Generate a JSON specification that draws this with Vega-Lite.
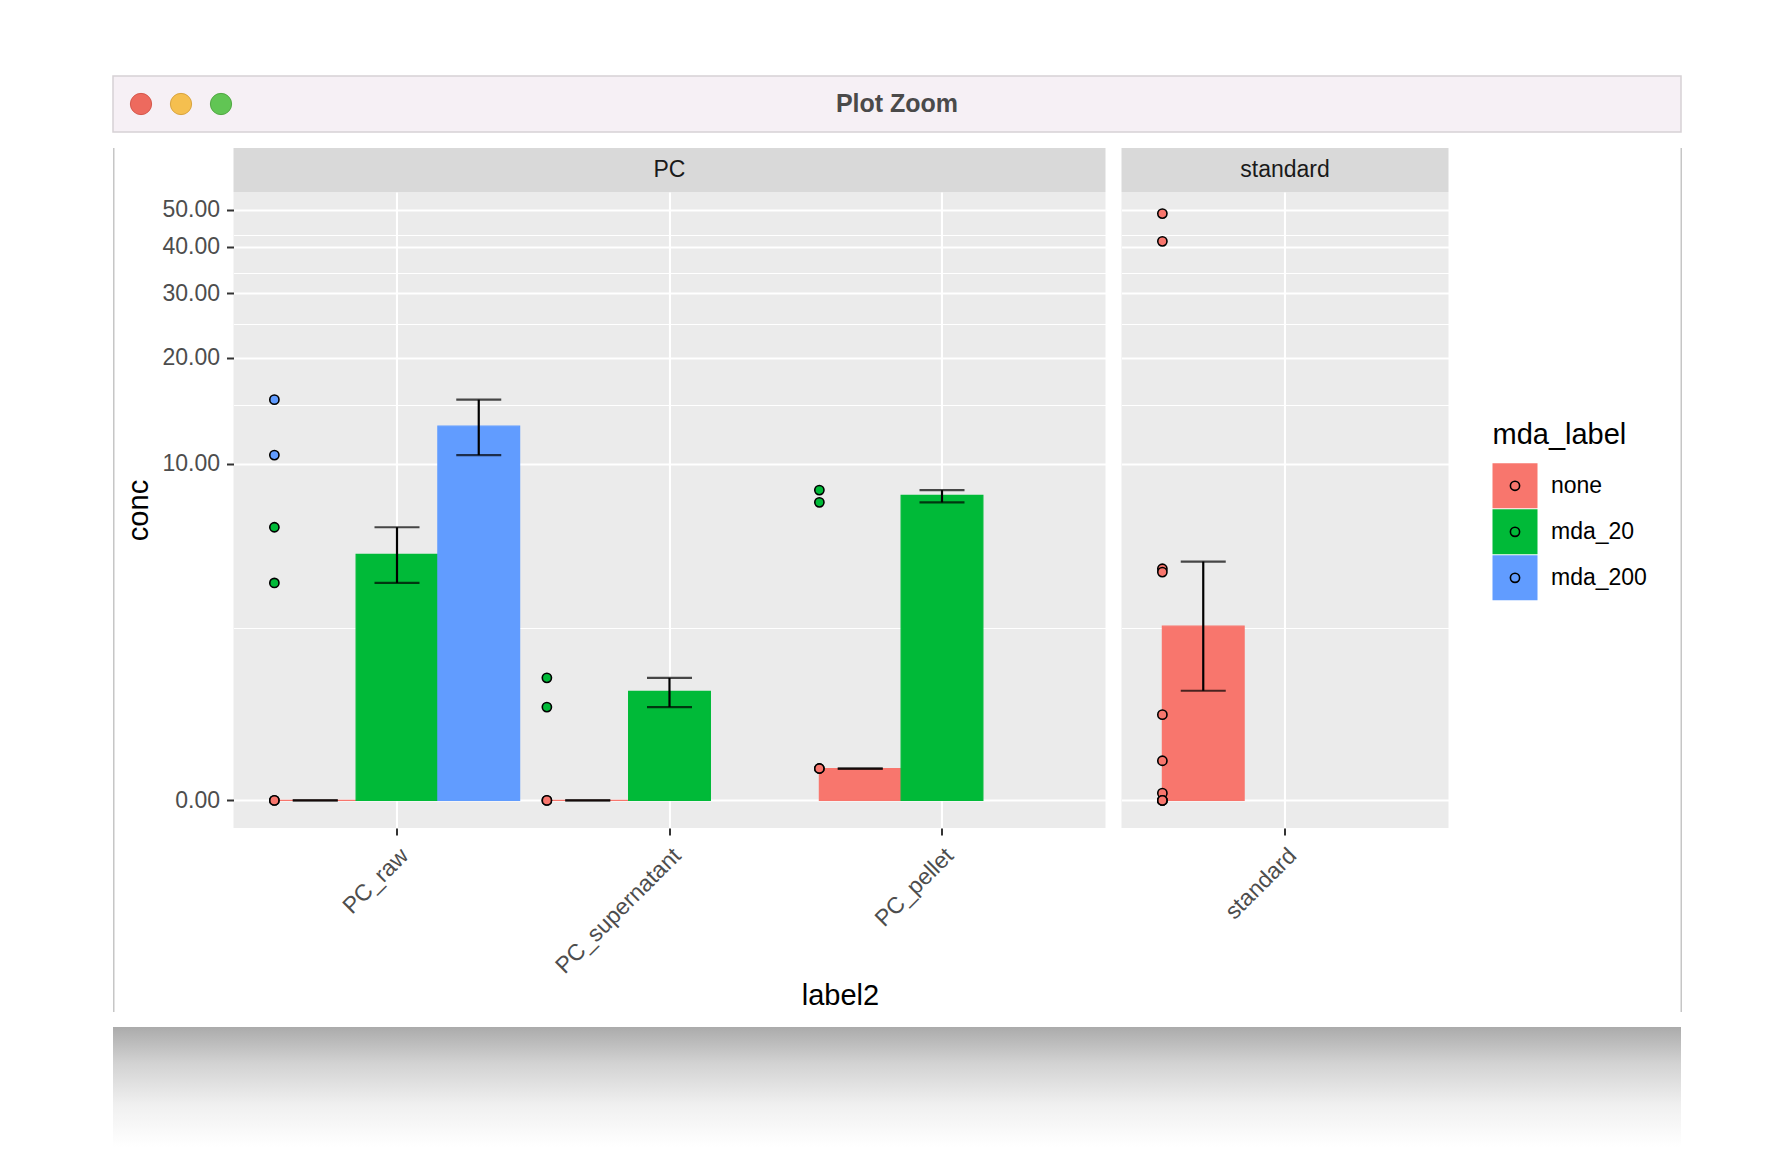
{
  "$schema": "https://vega.github.io/schema/vega-lite/v6.json",
  "background": "white",
  "padding": {"left": 112, "top": 75, "right": 0, "bottom": 0},
  "config": {
    "font": "Liberation Sans",
    "view": {"stroke": null},
    "axis": {
      "domain": false,
      "tickColor": "#333333",
      "tickWidth": 2,
      "tickSize": 7,
      "labelColor": "#4D4D4D",
      "labelFontSize": 23,
      "titleFontSize": 29,
      "titleFontWeight": "normal",
      "titleColor": "#000000",
      "gridColor": "#FFFFFF",
      "minExtent": 0
    }
  },
  "datasets": {
    "bars": [
      {"group": "PC", "label2": "PC_raw", "mda_label": "none", "conc": 0, "lower": 0, "upper": 0},
      {"group": "PC", "label2": "PC_raw", "mda_label": "mda_20", "conc": 5.2, "lower": 4.15, "upper": 6.38},
      {"group": "PC", "label2": "PC_raw", "mda_label": "mda_200", "conc": 12.86, "lower": 10.6, "upper": 15.3},
      {"group": "PC", "label2": "PC_supernatant", "mda_label": "none", "conc": 0, "lower": 0, "upper": 0},
      {"group": "PC", "label2": "PC_supernatant", "mda_label": "mda_20", "conc": 1.44, "lower": 1.17, "upper": 1.69},
      {"group": "PC", "label2": "PC_pellet", "mda_label": "none", "conc": 0.33, "lower": 0.33, "upper": 0.33},
      {"group": "PC", "label2": "PC_pellet", "mda_label": "mda_20", "conc": 8.03, "lower": 7.64, "upper": 8.33},
      {"group": "standard", "label2": "standard", "mda_label": "none", "conc": 2.86, "lower": 1.45, "upper": 4.92}
    ],
    "obs": [
      {"group": "PC", "label2": "PC_raw", "mda_label": "none", "conc": 0},
      {"group": "PC", "label2": "PC_raw", "mda_label": "none", "conc": 0},
      {"group": "PC", "label2": "PC_raw", "mda_label": "mda_20", "conc": 6.38},
      {"group": "PC", "label2": "PC_raw", "mda_label": "mda_20", "conc": 4.15},
      {"group": "PC", "label2": "PC_raw", "mda_label": "mda_200", "conc": 15.3},
      {"group": "PC", "label2": "PC_raw", "mda_label": "mda_200", "conc": 10.6},
      {"group": "PC", "label2": "PC_supernatant", "mda_label": "none", "conc": 0},
      {"group": "PC", "label2": "PC_supernatant", "mda_label": "none", "conc": 0},
      {"group": "PC", "label2": "PC_supernatant", "mda_label": "mda_20", "conc": 1.69},
      {"group": "PC", "label2": "PC_supernatant", "mda_label": "mda_20", "conc": 1.17},
      {"group": "PC", "label2": "PC_pellet", "mda_label": "none", "conc": 0.33},
      {"group": "PC", "label2": "PC_pellet", "mda_label": "none", "conc": 0.33},
      {"group": "PC", "label2": "PC_pellet", "mda_label": "mda_20", "conc": 8.33},
      {"group": "PC", "label2": "PC_pellet", "mda_label": "mda_20", "conc": 7.64},
      {"group": "standard", "label2": "standard", "mda_label": "none", "conc": 48.9},
      {"group": "standard", "label2": "standard", "mda_label": "none", "conc": 41.3},
      {"group": "standard", "label2": "standard", "mda_label": "none", "conc": 4.65},
      {"group": "standard", "label2": "standard", "mda_label": "none", "conc": 4.53},
      {"group": "standard", "label2": "standard", "mda_label": "none", "conc": 1.05},
      {"group": "standard", "label2": "standard", "mda_label": "none", "conc": 0.42},
      {"group": "standard", "label2": "standard", "mda_label": "none", "conc": 0.07},
      {"group": "standard", "label2": "standard", "mda_label": "none", "conc": 0},
      {"group": "standard", "label2": "standard", "mda_label": "none", "conc": 0},
      {"group": "standard", "label2": "standard", "mda_label": "none", "conc": 0}
    ],
    "strips": [{"group": "PC"}, {"group": "standard"}],
    "buttons": [{"button": "close"}, {"button": "minimize"}, {"button": "zoom"}],
    "window": [{"name": "Plot Zoom"}],
    "frame": [{"edge": "window"}]
  },
  "resolve": {"scale": {"x": "independent", "y": "independent", "fill": "independent", "stroke": "independent"}},
  "spacing": 15,
  "vconcat": [
    {
      "width": 1568,
      "height": 56,
      "view": {"fill": "#F6F0F5", "stroke": "#D6D1D5", "strokeWidth": 1.5},
      "layer": [
        {
          "data": {"name": "buttons"},
          "mark": {"type": "circle", "size": 452, "opacity": 1, "strokeWidth": 1},
          "encoding": {
            "x": {"field": "button", "type": "nominal", "scale": {"type": "point", "domain": ["close", "minimize", "zoom"], "range": [28, 108], "padding": 0}, "axis": null},
            "fill": {"field": "button", "type": "nominal", "scale": {"domain": ["close", "minimize", "zoom"], "range": ["#ED6A5E", "#F5BF4F", "#61C554"]}, "legend": null},
            "stroke": {"field": "button", "type": "nominal", "scale": {"domain": ["close", "minimize", "zoom"], "range": ["#D5584C", "#D9A43F", "#52A843"]}, "legend": null}
          }
        },
        {
          "data": {"name": "window"},
          "mark": {"type": "text", "fontSize": 25, "fontWeight": "bold", "color": "#4A4A4A", "baseline": "middle"},
          "encoding": {"text": {"field": "name"}}
        }
      ]
    },
    {
      "spacing": 8.5,
      "resolve": {"scale": {"x": "independent", "y": "independent"}},
      "hconcat": [
        {
          "width": 1.5,
          "height": 864,
          "data": {"name": "frame"},
          "mark": {"type": "rect", "color": "#C6C6C6"}
        },
        {
          "spacing": 33,
          "resolve": {"scale": {"x": "independent", "y": "independent"}},
          "hconcat": [
            {
              "spacing": 44,
              "resolve": {"scale": {"x": "independent", "y": "independent"}},
              "hconcat": [
                {
                  "title": {"text": "label2", "orient": "bottom", "anchor": "middle", "fontSize": 29, "fontWeight": "normal", "color": "#000000", "offset": 4, "dx": 54},
                  "spacing": 16,
                  "resolve": {"scale": {"x": "independent", "y": "independent"}},
                  "hconcat": [
                    {
                      "spacing": 0,
                      "resolve": {"scale": {"x": "independent", "y": "independent"}},
                      "vconcat": [
                        {
                          "width": 872,
                          "height": 44,
                          "view": {"fill": "#D9D9D9", "stroke": null},
                          "data": {"name": "strips"},
                          "transform": [{"filter": "datum.group === 'PC'"}],
                          "mark": {"type": "text", "fontSize": 23, "color": "#1A1A1A", "baseline": "middle"},
                          "encoding": {"text": {"field": "group"}}
                        },
                        {
                          "width": 872,
                          "height": 636,
                          "view": {"fill": "#EBEBEB", "stroke": null},
                          "layer": [
                            {
                              "data": {"name": "bars"},
                              "transform": [{"filter": "datum.group === 'PC'"}],
                              "mark": {"type": "bar", "strokeWidth": 1.2},
                              "encoding": {
                                "x": {"field": "label2", "type": "nominal", "scale": {"domain": ["PC_raw", "PC_supernatant", "PC_pellet"], "paddingInner": 0.1, "paddingOuter": 0.15},
                                      "axis": {"title": null, "labelAngle": -45, "labelAlign": "right", "labelBaseline": "top", "labelPadding": 9, "grid": true, "gridWidth": 2.1, "bandPosition": 0.5}},
                                "xOffset": {"field": "mda_label", "type": "nominal", "scale": {"domain": ["none", "mda_20", "mda_200"], "paddingInner": 0, "paddingOuter": 0}},
                                "y": {"field": "conc", "type": "quantitative",
                                      "scale": {"type": "symlog", "constant": 1.6, "domain": [-0.282, 55.74], "nice": false, "zero": false},
                                      "axis": {"title": "conc", "grid": true,
                                               "values": [0, 2.803, 10, 14.76, 20, 24.77, 30, 34.08, 40, 42.99, 50],
                                               "labelExpr": "indexof([0,10,20,30,40,50], datum.value) < 0 ? '' : format(datum.value, '.2f')",
                                               "tickOpacity": {"condition": {"test": "indexof([0,10,20,30,40,50], datum.value) < 0", "value": 0}, "value": 1},
                                               "gridWidth": {"condition": {"test": "indexof([0,10,20,30,40,50], datum.value) < 0", "value": 1.1}, "value": 2.1},
                                               "labelPadding": 7, "titlePadding": 8.5}},
                                "y2": {"datum": 0},
                                "fill": {"field": "mda_label", "type": "nominal", "scale": {"domain": ["none", "mda_20", "mda_200"], "range": ["#F8766D", "#00BA38", "#619CFF"]}, "legend": null},
                                "stroke": {"field": "mda_label", "type": "nominal", "scale": {"domain": ["none", "mda_20", "mda_200"], "range": ["#F8766D", "#00BA38", "#619CFF"]}, "legend": null}
                              }
                            },
                            {
                              "data": {"name": "bars"},
                              "transform": [{"filter": "datum.group === 'PC'"}],
                              "mark": {"type": "rule", "color": "#000000", "strokeWidth": 2.2},
                              "encoding": {
                                "x": {"field": "label2", "type": "nominal", "scale": {"domain": ["PC_raw", "PC_supernatant", "PC_pellet"], "paddingInner": 0.1, "paddingOuter": 0.15}},
                                "xOffset": {"field": "mda_label", "type": "nominal", "scale": {"domain": ["none", "mda_20", "mda_200"], "paddingInner": 0, "paddingOuter": 0}},
                                "y": {"field": "lower", "type": "quantitative"},
                                "y2": {"field": "upper"}
                              }
                            },
                            {
                              "data": {"name": "bars"},
                              "transform": [{"filter": "datum.group === 'PC'"}],
                              "mark": {"type": "tick", "color": "#000000", "thickness": 2.2, "size": 45, "orient": "horizontal"},
                              "encoding": {
                                "x": {"field": "label2", "type": "nominal", "scale": {"domain": ["PC_raw", "PC_supernatant", "PC_pellet"], "paddingInner": 0.1, "paddingOuter": 0.15}},
                                "xOffset": {"field": "mda_label", "type": "nominal", "scale": {"domain": ["none", "mda_20", "mda_200"], "paddingInner": 0, "paddingOuter": 0}},
                                "y": {"field": "lower", "type": "quantitative"}
                              }
                            },
                            {
                              "data": {"name": "bars"},
                              "transform": [{"filter": "datum.group === 'PC'"}],
                              "mark": {"type": "tick", "color": "#000000", "thickness": 2.2, "size": 45, "orient": "horizontal"},
                              "encoding": {
                                "x": {"field": "label2", "type": "nominal", "scale": {"domain": ["PC_raw", "PC_supernatant", "PC_pellet"], "paddingInner": 0.1, "paddingOuter": 0.15}},
                                "xOffset": {"field": "mda_label", "type": "nominal", "scale": {"domain": ["none", "mda_20", "mda_200"], "paddingInner": 0, "paddingOuter": 0}},
                                "y": {"field": "upper", "type": "quantitative"}
                              }
                            },
                            {
                              "data": {"name": "obs"},
                              "transform": [{"filter": "datum.group === 'PC'"}],
                              "mark": {"type": "circle", "size": 85, "stroke": "#000000", "strokeWidth": 1.6, "opacity": 1},
                              "encoding": {
                                "x": {"field": "label2", "type": "nominal", "bandPosition": 0, "scale": {"domain": ["PC_raw", "PC_supernatant", "PC_pellet"], "paddingInner": 0.1, "paddingOuter": 0.15}},
                                "y": {"field": "conc", "type": "quantitative"},
                                "fill": {"field": "mda_label", "type": "nominal", "scale": {"domain": ["none", "mda_20", "mda_200"], "range": ["#F8766D", "#00BA38", "#619CFF"]}, "legend": null}
                              }
                            }
                          ]
                        }
                      ]
                    },
                    {
                      "spacing": 0,
                      "resolve": {"scale": {"x": "independent", "y": "independent"}},
                      "vconcat": [
                        {
                          "width": 327,
                          "height": 44,
                          "view": {"fill": "#D9D9D9", "stroke": null},
                          "data": {"name": "strips"},
                          "transform": [{"filter": "datum.group === 'standard'"}],
                          "mark": {"type": "text", "fontSize": 23, "color": "#1A1A1A", "baseline": "middle"},
                          "encoding": {"text": {"field": "group"}}
                        },
                        {
                          "width": 327,
                          "height": 636,
                          "view": {"fill": "#EBEBEB", "stroke": null},
                          "layer": [
                            {
                              "data": {"name": "bars"},
                              "transform": [{"filter": "datum.group === 'standard'"}],
                              "mark": {"type": "bar", "strokeWidth": 1.2},
                              "encoding": {
                                "x": {"field": "label2", "type": "nominal", "scale": {"domain": ["standard"], "paddingInner": 0.1, "paddingOuter": 0.15},
                                      "axis": {"title": null, "labelAngle": -45, "labelAlign": "right", "labelBaseline": "top", "labelPadding": 9, "grid": true, "gridWidth": 2.1, "bandPosition": 0.5}},
                                "xOffset": {"field": "mda_label", "type": "nominal", "scale": {"domain": ["none", "mda_20", "mda_200"], "paddingInner": 0, "paddingOuter": 0}},
                                "y": {"field": "conc", "type": "quantitative",
                                      "scale": {"type": "symlog", "constant": 1.6, "domain": [-0.282, 55.74], "nice": false, "zero": false},
                                      "axis": {"title": null, "grid": true, "labels": false, "ticks": false,
                                               "values": [0, 2.803, 10, 14.76, 20, 24.77, 30, 34.08, 40, 42.99, 50],
                                               "gridWidth": {"condition": {"test": "indexof([0,10,20,30,40,50], datum.value) < 0", "value": 1.1}, "value": 2.1}}},
                                "y2": {"datum": 0},
                                "fill": {"field": "mda_label", "type": "nominal", "scale": {"domain": ["none", "mda_20", "mda_200"], "range": ["#F8766D", "#00BA38", "#619CFF"]}, "legend": null},
                                "stroke": {"field": "mda_label", "type": "nominal", "scale": {"domain": ["none", "mda_20", "mda_200"], "range": ["#F8766D", "#00BA38", "#619CFF"]}, "legend": null}
                              }
                            },
                            {
                              "data": {"name": "bars"},
                              "transform": [{"filter": "datum.group === 'standard'"}],
                              "mark": {"type": "rule", "color": "#000000", "strokeWidth": 2.2},
                              "encoding": {
                                "x": {"field": "label2", "type": "nominal", "scale": {"domain": ["standard"], "paddingInner": 0.1, "paddingOuter": 0.15}},
                                "xOffset": {"field": "mda_label", "type": "nominal", "scale": {"domain": ["none", "mda_20", "mda_200"], "paddingInner": 0, "paddingOuter": 0}},
                                "y": {"field": "lower", "type": "quantitative"},
                                "y2": {"field": "upper"}
                              }
                            },
                            {
                              "data": {"name": "bars"},
                              "transform": [{"filter": "datum.group === 'standard'"}],
                              "mark": {"type": "tick", "color": "#000000", "thickness": 2.2, "size": 45, "orient": "horizontal"},
                              "encoding": {
                                "x": {"field": "label2", "type": "nominal", "scale": {"domain": ["standard"], "paddingInner": 0.1, "paddingOuter": 0.15}},
                                "xOffset": {"field": "mda_label", "type": "nominal", "scale": {"domain": ["none", "mda_20", "mda_200"], "paddingInner": 0, "paddingOuter": 0}},
                                "y": {"field": "lower", "type": "quantitative"}
                              }
                            },
                            {
                              "data": {"name": "bars"},
                              "transform": [{"filter": "datum.group === 'standard'"}],
                              "mark": {"type": "tick", "color": "#000000", "thickness": 2.2, "size": 45, "orient": "horizontal"},
                              "encoding": {
                                "x": {"field": "label2", "type": "nominal", "scale": {"domain": ["standard"], "paddingInner": 0.1, "paddingOuter": 0.15}},
                                "xOffset": {"field": "mda_label", "type": "nominal", "scale": {"domain": ["none", "mda_20", "mda_200"], "paddingInner": 0, "paddingOuter": 0}},
                                "y": {"field": "upper", "type": "quantitative"}
                              }
                            },
                            {
                              "data": {"name": "obs"},
                              "transform": [{"filter": "datum.group === 'standard'"}],
                              "mark": {"type": "circle", "size": 85, "stroke": "#000000", "strokeWidth": 1.6, "opacity": 1},
                              "encoding": {
                                "x": {"field": "label2", "type": "nominal", "bandPosition": 0, "scale": {"domain": ["standard"], "paddingInner": 0.1, "paddingOuter": 0.15}},
                                "y": {"field": "conc", "type": "quantitative"},
                                "fill": {"field": "mda_label", "type": "nominal", "scale": {"domain": ["none", "mda_20", "mda_200"], "range": ["#F8766D", "#00BA38", "#619CFF"]}, "legend": null}
                              }
                            }
                          ]
                        }
                      ]
                    }
                  ]
                },
                {
                  "width": 45,
                  "height": 680,
                  "data": {"name": "bars"},
                  "transform": [{"aggregate": [{"op": "count", "as": "n"}], "groupby": ["mda_label"]}],
                  "encoding": {
                    "y": {"field": "mda_label", "type": "nominal",
                          "scale": {"domain": ["none", "mda_20", "mda_200"], "range": [315.3, 452.3], "paddingInner": 0.022, "paddingOuter": 0},
                          "axis": null}
                  },
                  "layer": [
                    {
                      "mark": {"type": "rect"},
                      "encoding": {
                        "fill": {"field": "mda_label", "type": "nominal", "scale": {"domain": ["none", "mda_20", "mda_200"], "range": ["#F8766D", "#00BA38", "#619CFF"]}, "legend": null}
                      }
                    },
                    {
                      "mark": {"type": "circle", "size": 85, "stroke": "#000000", "strokeWidth": 1.6, "opacity": 1},
                      "encoding": {
                        "fill": {"field": "mda_label", "type": "nominal", "scale": {"domain": ["none", "mda_20", "mda_200"], "range": ["#F8766D", "#00BA38", "#619CFF"]}, "legend": null}
                      }
                    },
                    {
                      "mark": {"type": "text", "align": "left", "baseline": "middle", "dx": 36, "fontSize": 23, "color": "#000000"},
                      "encoding": {"text": {"field": "mda_label"}}
                    },
                    {
                      "transform": [{"filter": "datum.mda_label === 'none'"}],
                      "mark": {"type": "text", "align": "left", "baseline": "alphabetic", "dx": -22.5, "dy": -42, "fontSize": 29, "color": "#000000", "text": "mda_label"}
                    }
                  ]
                }
              ]
            },
            {
              "width": 1.5,
              "height": 864,
              "data": {"name": "frame"},
              "mark": {"type": "rect", "color": "#C6C6C6"}
            }
          ]
        }
      ]
    },
    {
      "width": 1568,
      "height": 120,
      "data": {"name": "frame"},
      "mark": {
        "type": "rect",
        "color": {
          "gradient": "linear", "x1": 0, "y1": 0, "x2": 0, "y2": 1,
          "stops": [
            {"offset": 0, "color": "#ABABAB"},
            {"offset": 0.3, "color": "#D2D2D2"},
            {"offset": 0.65, "color": "#F0F0F0"},
            {"offset": 1, "color": "#FFFFFF"}
          ]
        }
      }
    }
  ]
}
